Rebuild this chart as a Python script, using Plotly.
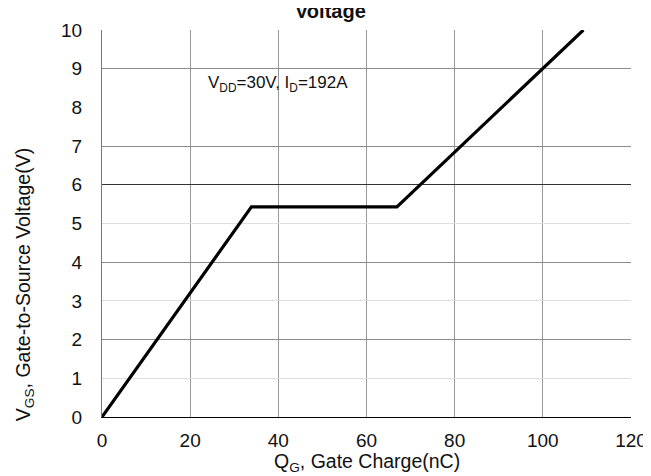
import plotly.graph_objects as go

# Data
gate_charge_nc = [0, 33.9, 66.9, 109.2]
vgs_volts = [0, 5.43, 5.43, 10.0]

x_ticks = [0, 20, 40, 60, 80, 100, 120]
y_ticks = [0, 1, 2, 3, 4, 5, 6, 7, 8, 9, 10]
y_light_grid = [1, 3, 5, 10]
y_mid_grid = [2, 4, 7, 9]
y_dark_grid = [6]
x_dark_grid = [120]

title_text = "Voltage"
annotation_text = "V<sub>DD</sub>=30V, I<sub>D</sub>=192A"
annotation_pos = (40, 8.6)
x_title = "Q<sub>G</sub>, Gate Charge(nC)"
y_title = "V<sub>GS</sub>, Gate-to-Source Voltage(V)"

FONT = "Arial, Liberation Sans, sans-serif"
TXT = "#111"


def helper(xa, ya):
    return go.Scatter(x=gate_charge_nc, y=vgs_volts, xaxis=xa, yaxis=ya,
                      mode="lines", line=dict(width=0, color="rgba(0,0,0,0)"),
                      hoverinfo="skip", showlegend=False)


fig = go.Figure()
for xa, ya in [("x", "y4"), ("x", "y2"), ("x", "y3"), ("x2", "y")]:
    fig.add_trace(helper(xa, ya))

fig.add_trace(go.Scatter(x=gate_charge_nc, y=vgs_volts, mode="lines",
                         line=dict(color="black", width=3.2), showlegend=False))

fig.update_layout(
    width=651, height=476,
    margin=dict(l=94, r=18, t=20, b=67),
    paper_bgcolor="white", plot_bgcolor="white",
    font=dict(family=FONT, size=19, color=TXT),
    xaxis=dict(range=[0, 120], tickvals=x_ticks, showgrid=True,
               gridcolor="#9a9a9a", gridwidth=1, zeroline=False,
               showline=True, linecolor="black", linewidth=1.2,
               ticks="outside", ticklen=6, tickcolor="rgba(0,0,0,0)",
               tickfont=dict(size=19, color=TXT)),
    xaxis2=dict(range=[0, 120], overlaying="x", tickvals=x_dark_grid,
                showticklabels=False, showgrid=True, gridcolor="#222",
                gridwidth=1.3, zeroline=False, showline=False),
    yaxis=dict(range=[0, 10], tickvals=y_ticks, showgrid=False,
               zeroline=False, showline=True, linecolor="#777", linewidth=1.2,
               ticks="outside", ticklen=15, tickcolor="rgba(0,0,0,0)",
               tickfont=dict(size=19, color=TXT)),
    yaxis2=dict(range=[0, 10], overlaying="y", tickvals=y_mid_grid,
                showticklabels=False, showgrid=True, gridcolor="#8c8c8c",
                zeroline=False, showline=False),
    yaxis3=dict(range=[0, 10], overlaying="y", tickvals=y_dark_grid,
                showticklabels=False, showgrid=True, gridcolor="#333",
                zeroline=False, showline=False),
    yaxis4=dict(range=[0, 10], overlaying="y", tickvals=y_light_grid,
                showticklabels=False, showgrid=True, gridcolor="#dedede",
                zeroline=False, showline=False),
    annotations=[
        dict(x=annotation_pos[0], y=annotation_pos[1], xref="x", yref="y",
             text=annotation_text, showarrow=False,
             font=dict(size=17, family=FONT, color=TXT)),
        dict(x=(327 - 94) / 539, y=(409 - 1) / 389, xref="paper", yref="paper",
             text=f"<b>{title_text}</b>", showarrow=False,
             xanchor="center", yanchor="middle",
             font=dict(size=20, family=FONT, color=TXT)),
        dict(x=0.5, y=(409 - 455) / 389, xref="paper", yref="paper",
             text=x_title, showarrow=False, xanchor="center", yanchor="middle",
             font=dict(size=19.5, family=FONT, color=TXT)),
        dict(x=(15 - 94) / 539, y=(409 - 276) / 389, xref="paper", yref="paper",
             text=y_title, showarrow=False, textangle=-90,
             xanchor="center", yanchor="middle",
             font=dict(size=19.5, family=FONT, color=TXT)),
    ],
)

fig.write_html("out.html")
